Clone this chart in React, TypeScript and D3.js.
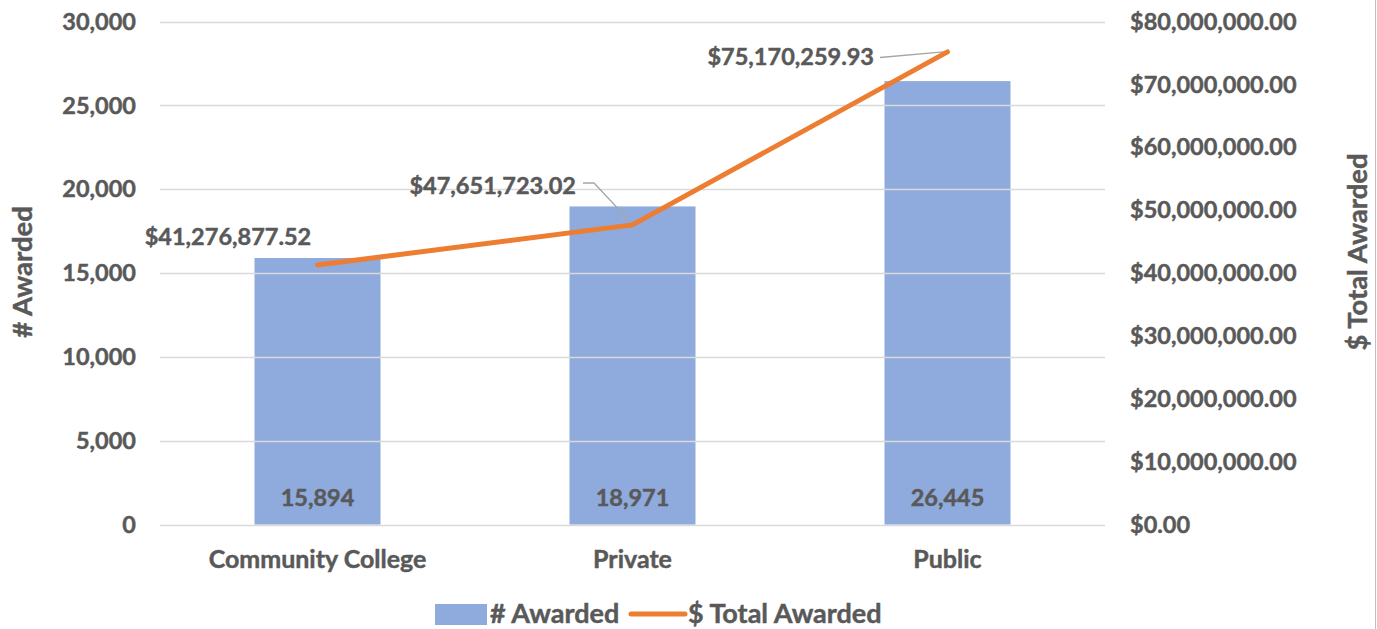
import React, { useEffect, useRef } from "react";
import * as d3 from "d3";

const categories = ["Community College", "Private", "Public"];
const awarded = [15894, 18971, 26445];
const totalAwarded = [41276877.52, 47651723.02, 75170259.93];
const leftTicks = [0, 5000, 10000, 15000, 20000, 25000, 30000];
const rightTicks = [0, 10000000, 20000000, 30000000, 40000000, 50000000, 60000000, 70000000, 80000000];

const W = 1377, H = 629;
const FONT = "Lato, 'Open Sans', sans-serif";
const TEXT = "#595959";

export default function App() {
  const ref = useRef<SVGSVGElement>(null);
  useEffect(() => {
    const svg = d3.select(ref.current);
    svg.selectAll("*").remove();
    const left = 160, right = 1105, top = 21.5, bottom = 524.5;
    const x = d3.scaleBand().domain(categories).range([left, right]).padding(0);
    const y = d3.scaleLinear().domain([0, 30000]).range([bottom, top]);
    const y2 = d3.scaleLinear().domain([0, 80000000]).range([bottom, top]);
    const fmtN = d3.format(",");
    const fmtD = (v: number) => "$" + d3.format(",.2f")(v);

    const g = svg.append("g").attr("font-family", FONT).attr("font-weight", 700).attr("fill", TEXT);

    // gridlines
    g.selectAll(".grid").data(leftTicks).enter().append("line")
      .attr("x1", left).attr("x2", right)
      .attr("y1", d => Math.round(y(d)) + 0.5).attr("y2", d => Math.round(y(d)) + 0.5)
      .attr("stroke", "#D9D9D9").attr("stroke-width", 1.5);

    const t = g.append("g").attr("stroke", TEXT).attr("stroke-width", 0.45);

    // left ticks
    t.selectAll(".lt").data(leftTicks).enter().append("text")
      .attr("x", 136).attr("y", d => y(d)).attr("dy", "0.35em")
      .attr("text-anchor", "end").attr("font-size", 23.5).text(d => fmtN(d));

    // right ticks
    t.selectAll(".rt").data(rightTicks).enter().append("text")
      .attr("x", 1130).attr("y", d => y2(d)).attr("dy", "0.35em")
      .attr("text-anchor", "start").attr("font-size", 23.5).text(d => fmtD(d));

    // bars
    const bw = x.bandwidth() * 0.4;
    g.insert("g", ":nth-child(2)").selectAll(".bar").data(awarded).enter().append("rect")
      .attr("x", (d, i) => x(categories[i])! + x.bandwidth() / 2 - bw / 2)
      .attr("width", bw)
      .attr("y", d => y(d)).attr("height", d => bottom - y(d))
      .attr("fill", "#8FAADC");

    // bar labels
    t.selectAll(".bl").data(awarded).enter().append("text")
      .attr("x", (d, i) => x(categories[i])! + x.bandwidth() / 2)
      .attr("y", 498).attr("dy", "0.35em").attr("text-anchor", "middle")
      .attr("font-size", 23.5).text(d => fmtN(d));

    // category labels
    t.selectAll(".cl").data(categories).enter().append("text")
      .attr("x", d => x(d)! + x.bandwidth() / 2)
      .attr("y", 559).attr("dy", "0.35em").attr("text-anchor", "middle")
      .attr("font-size", 25).text(d => d);

    // leader lines
    const px = (i: number) => x(categories[i])! + x.bandwidth() / 2;
    g.append("path")
      .attr("d", `M583,183 L594,183 L${px(1) - 2},${y2(totalAwarded[1]) - 3}`)
      .attr("fill", "none").attr("stroke", "#A6A6A6").attr("stroke-width", 1.3);
    g.append("path")
      .attr("d", `M880,57.5 L${px(2) - 4},${y2(totalAwarded[2])}`)
      .attr("fill", "none").attr("stroke", "#A6A6A6").attr("stroke-width", 1.3);

    // line
    const line = d3.line<number>().x((d, i) => px(i)).y(d => y2(d));
    g.append("path").datum(totalAwarded).attr("d", line)
      .attr("fill", "none").attr("stroke", "#ED7D31").attr("stroke-width", 5)
      .attr("stroke-linecap", "round").attr("stroke-linejoin", "round");

    const t2 = g.append("g").attr("stroke", TEXT).attr("stroke-width", 0.45);
    // line labels
    const lpos = [
      { x: 228, y: 237, a: "middle" },
      { x: 576, y: 186, a: "end" },
      { x: 874, y: 57, a: "end" },
    ];
    t2.selectAll(".ll").data(totalAwarded).enter().append("text")
      .attr("x", (d, i) => lpos[i].x).attr("y", (d, i) => lpos[i].y).attr("dy", "0.35em")
      .attr("text-anchor", (d, i) => lpos[i].a)
      .attr("font-size", 23.5).text(d => fmtD(d));

    // axis titles
    t2.append("text").attr("transform", "translate(22,272) rotate(-90)")
      .attr("text-anchor", "middle").attr("dy", "0.35em").attr("font-size", 27.5).text("# Awarded");
    t2.append("text").attr("transform", "translate(1357,252) rotate(-90)")
      .attr("text-anchor", "middle").attr("dy", "0.35em").attr("font-size", 27.5).text("$ Total Awarded");

    // legend
    g.append("rect").attr("x", 435).attr("y", 604).attr("width", 52).attr("height", 21).attr("fill", "#8FAADC");
    t2.append("text").attr("x", 490).attr("y", 622.5).attr("font-size", 27).text("# Awarded");
    g.append("line").attr("x1", 631).attr("x2", 685).attr("y1", 614).attr("y2", 614)
      .attr("stroke", "#ED7D31").attr("stroke-width", 5).attr("stroke-linecap", "round");
    t2.append("text").attr("x", 688).attr("y", 622.5).attr("font-size", 27).text("$ Total Awarded");

    // right border
    g.append("line").attr("x1", 1375.5).attr("x2", 1375.5).attr("y1", 0).attr("y2", H)
      .attr("stroke", "#BFBFBF").attr("stroke-width", 1);
  }, []);
  return (
    <svg ref={ref} width={W} height={H} style={{ position: "absolute", left: 0, top: 0, background: "#fff" }} />
  );
}
